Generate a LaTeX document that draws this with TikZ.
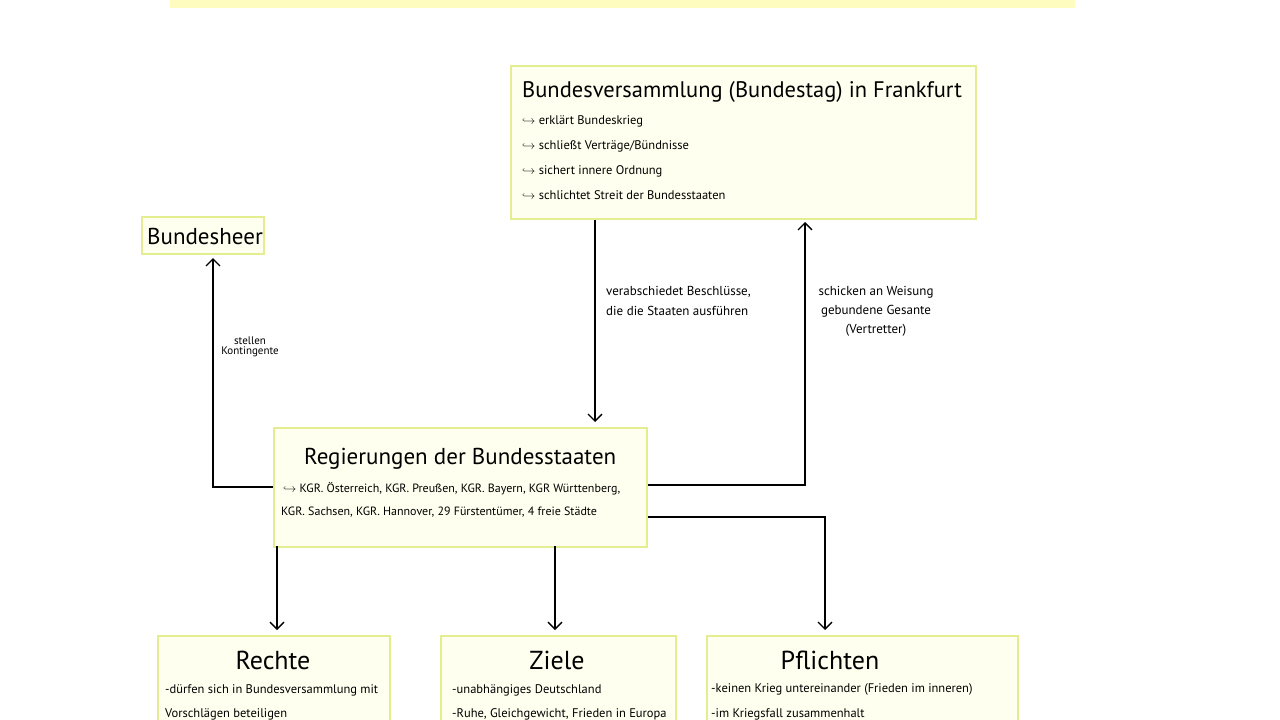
\documentclass[tikz,border=0pt]{standalone}
\usepackage{fontspec}
\setmainfont{PT Sans}
\usetikzlibrary{arrows.meta}
\definecolor{bfill}{HTML}{FFFFF0}
\definecolor{bdraw}{HTML}{E4EE90}
\begin{document}
\begin{tikzpicture}[x=1pt,y=-1pt,
 box/.style={draw=bdraw,fill=bfill,line width=2pt},
 arr/.style={-{Straight Barb[length=7pt,width=14pt,line width=1.3pt]},line width=1.3pt},
 t/.style={anchor=west,inner sep=0pt,font=\fontsize{12.5}{13}\selectfont},
 lab/.style={inner sep=0pt,font=\fontsize{13}{13}\selectfont,align=center}]
\useasboundingbox (0,0) rectangle (1280,720);
\fill[yellow!25] (170,0) rectangle (1075,8);
\node[box,minimum width=465pt,minimum height=153pt,anchor=north west] (bv) at (510,65) {};
\node[box,minimum width=122pt,minimum height=37pt,anchor=north west] (bh) at (141,216) {};
\node[box,minimum width=373pt,minimum height=119pt,anchor=north west] (rg) at (273,427) {};
\node[box,minimum width=232pt,minimum height=100pt,anchor=north west] (re) at (157,635) {};
\node[box,minimum width=235pt,minimum height=100pt,anchor=north west] (zi) at (440,635) {};
\node[box,minimum width=311pt,minimum height=100pt,anchor=north west] (pf) at (706,635) {};
\node[t,font=\fontsize{22.5}{23}\selectfont] (bvt) at (522,92) {Bundesversammlung (Bundestag) in Frankfurt};
\node[t] (b1) at (522,121) {$\hookrightarrow$ erklärt Bundeskrieg};
\node[t] (b2) at (522,146) {$\hookrightarrow$ schließt Verträge/Bündnisse};
\node[t] (b3) at (522,171) {$\hookrightarrow$ sichert innere Ordnung};
\node[t] (b4) at (522,195) {$\hookrightarrow$ schlichtet Streit der Bundesstaaten};
\node[t,font=\fontsize{23}{23}\selectfont] (bht) at (147,236) {Bundesheer};
\node[t,font=\fontsize{23}{23}\selectfont] (rgt) at (304,459) {Regierungen der Bundesstaaten};
\node[t,font=\fontsize{12}{12}\selectfont] (r1) at (283,489) {$\hookrightarrow$ KGR. Österreich, KGR. Preußen, KGR. Bayern, KGR Württenberg,};
\node[t,font=\fontsize{12}{12}\selectfont] (r2) at (281,512) {KGR. Sachsen, KGR. Hannover, 29 Fürstentümer, 4 freie Städte};
\node[font=\fontsize{26}{26}\selectfont,inner sep=0pt] (ret) at (273,660) {Rechte};
\node[t] (re1) at (165,690) {-dürfen sich in Bundesversammlung mit};
\node[t] (re2) at (165,714) {Vorschlägen beteiligen};
\node[font=\fontsize{26}{26}\selectfont,inner sep=0pt] (zit) at (557,660) {Ziele};
\node[t] (z1) at (452,690) {-unabhängiges Deutschland};
\node[t] (z2) at (452,714) {-Ruhe, Gleichgewicht, Frieden in Europa};
\node[font=\fontsize{26}{26}\selectfont,inner sep=0pt] (pft) at (830,660) {Pflichten};
\node[t] (p1) at (711,689) {-keinen Krieg untereinander (Frieden im inneren)};
\node[t] (p2) at (711,714) {-im Kriegsfall zusammenhalt};
\node[lab,anchor=north west,align=left] (l1) at (606,286) {verabschiedet Beschlüsse,\\[7pt]die die Staaten ausführen};
\node[lab,anchor=north] (l2) at (876,286) {schicken an Weisung\\[6pt]gebundene Gesante\\[6pt](Vertretter)};
\node[lab,font=\fontsize{11}{10}\selectfont] (l3) at (250,347) {stellen\\Kontingente};
\coordinate (c1) at (805,485);
\coordinate (c2) at (213,487);
\coordinate (c3) at (825,517);
\draw[arr] (bv.south -| 595,0) -- (595,422);
\draw[arr] (rg.east |- c1) -- (c1) -- (805,222);
\draw[arr] (rg.west |- c2) -- (c2) -- (213,258);
\draw[arr] (277,546) -- (277,630);
\draw[arr] (555,546) -- (555,630);
\draw[arr] (rg.east |- c3) -- (c3) -- (825,630);
\end{tikzpicture}
\end{document}
